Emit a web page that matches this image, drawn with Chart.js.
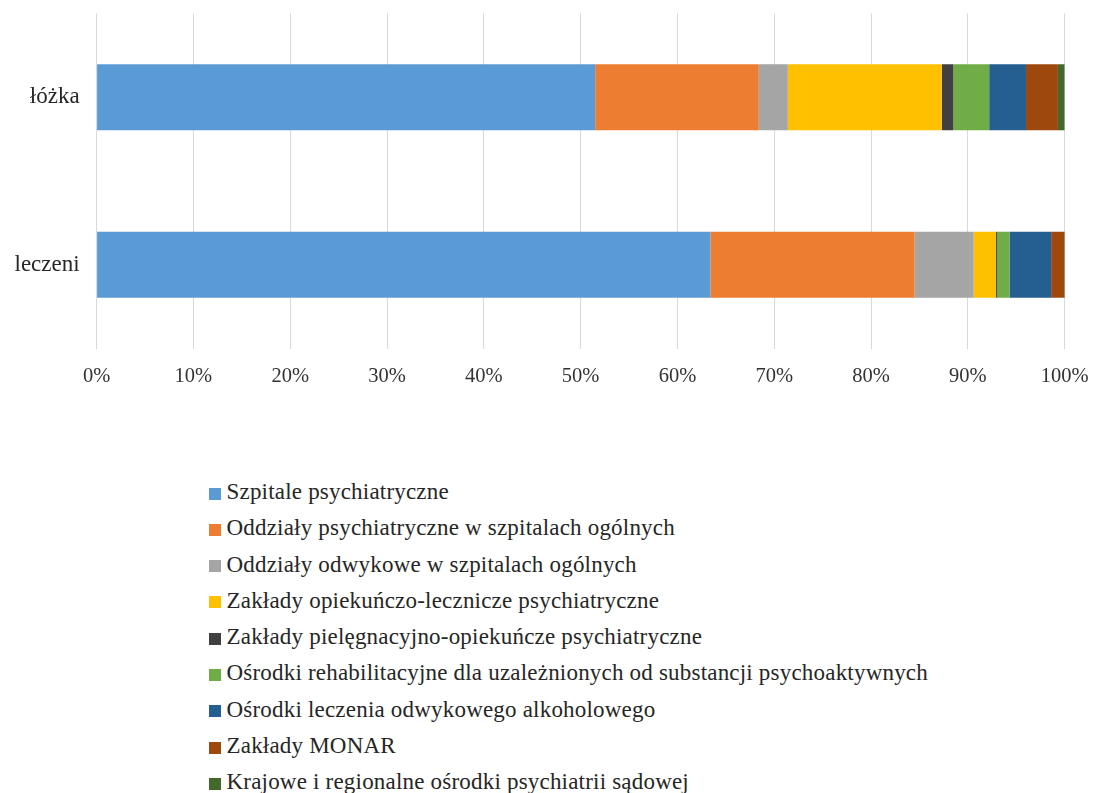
<!DOCTYPE html>
<html>
<head>
<meta charset="utf-8">
<script src="https://cdn.jsdelivr.net/npm/chart.js@4.4.1/dist/chart.umd.min.js"></script>
<style>
  html, body { margin: 0; padding: 0; background: #fff; overflow: hidden; }
  body { width: 1094px; height: 793px; position: relative; }
  #wrap { position: absolute; left: 0; top: 0; width: 1094px; height: 400px; }
  #legend { position: absolute; left: 209px; top: 474px; font-family: "Liberation Serif", "Times New Roman", serif;
            font-size: 23px; color: #262626; letter-spacing: 0.2px; }
  #legend .item { height: 36.3px; line-height: 36.3px; white-space: nowrap; }
  #legend .box { display: inline-block; width: 12px; height: 12px; margin-right: 5.5px; vertical-align: -0.5px; }
</style>
</head>
<body>
<div id="wrap"><canvas id="chart"></canvas></div>
<div id="legend"></div>
<script>
// kategorie (osie) i serie w procentach
const categories = ["łóżka", "leczeni"];

const seriesNames = [
    "Szpitale psychiatryczne",
    "Oddziały psychiatryczne w szpitalach ogólnych",
    "Oddziały odwykowe w szpitalach ogólnych",
    "Zakłady opiekuńczo-lecznicze psychiatryczne",
    "Zakłady pielęgnacyjno-opiekuńcze psychiatryczne",
    "Ośrodki rehabilitacyjne dla uzależnionych od substancji psychoaktywnych",
    "Ośrodki leczenia odwykowego alkoholowego",
    "Zakłady MONAR",
    "Krajowe i regionalne ośrodki psychiatrii sądowej"
];

// wartości: [łóżka, leczeni]
const szpitale      = [51.5, 63.4];
const oddzPsych     = [16.9, 21.1];
const oddzOdwyk     = [3.0, 6.1];
const zolPsych      = [15.9, 2.3];
const zpoPsych      = [1.2, 0.1];
const osrRehab      = [3.7, 1.3];
const osrAlko       = [3.8, 4.3];
const monar         = [3.3, 1.4];
const psychSadowa   = [0.7, 0.05];

const seriesValues = [szpitale, oddzPsych, oddzOdwyk, zolPsych, zpoPsych, osrRehab, osrAlko, monar, psychSadowa];

const colors = ["#5B9BD5", "#ED7D31", "#A5A5A5", "#FFC000", "#404040", "#70AD47", "#255E91", "#9E480E", "#43682B"];

const xTicks = [0, 10, 20, 30, 40, 50, 60, 70, 80, 90, 100];

const datasets = seriesNames.map((name, i) => ({
    label: name,
    data: seriesValues[i],
    backgroundColor: colors[i],
    borderWidth: 0,
    barPercentage: 0.394,
    categoryPercentage: 1.0
}));

const chart = new Chart(document.getElementById("chart"), {
    type: "bar",
    data: { labels: categories, datasets },
    options: {
        indexAxis: "y",
        responsive: true,
        maintainAspectRatio: false,
        animation: false,
        layout: { padding: { top: 13.4, bottom: 0, left: 0, right: 29.3 } },
        plugins: { legend: { display: false }, tooltip: { enabled: false } },
        scales: {
            x: {
                stacked: true,
                min: 0,
                max: 100,
                afterBuildTicks: scale => { scale.ticks = xTicks.map(v => ({ value: v })); },
                afterFit: scale => {
                    scale.height = 51.4;
                    scale.paddingLeft = 0;
                    scale.paddingRight = 0;
                },
                border: { display: false },
                grid: { color: "#d9d9d9", lineWidth: 1, drawTicks: false },
                ticks: {
                    padding: 16,
                    color: "#333",
                    font: { family: "'Liberation Serif', 'Times New Roman', serif", size: 20.5 },
                    callback: v => v + "%"
                }
            },
            y: {
                stacked: true,
                afterFit: scale => {
                    scale.width = 96.6;
                    scale.paddingTop = 0;
                    scale.paddingBottom = 0;
                },
                border: { display: false },
                grid: { display: false, drawTicks: false },
                ticks: {
                    padding: 17,
                    color: "#262626",
                    font: { family: "'Liberation Serif', 'Times New Roman', serif", size: 23 }
                }
            }
        }
    }
});

// legenda pionowa pod wykresem
const legendEl = document.getElementById("legend");
chart.data.datasets.forEach(ds => {
    const row = document.createElement("div");
    row.className = "item";
    const box = document.createElement("span");
    box.className = "box";
    box.style.background = ds.backgroundColor;
    row.appendChild(box);
    row.appendChild(document.createTextNode(ds.label));
    legendEl.appendChild(row);
});
</script>
</body>
</html>
